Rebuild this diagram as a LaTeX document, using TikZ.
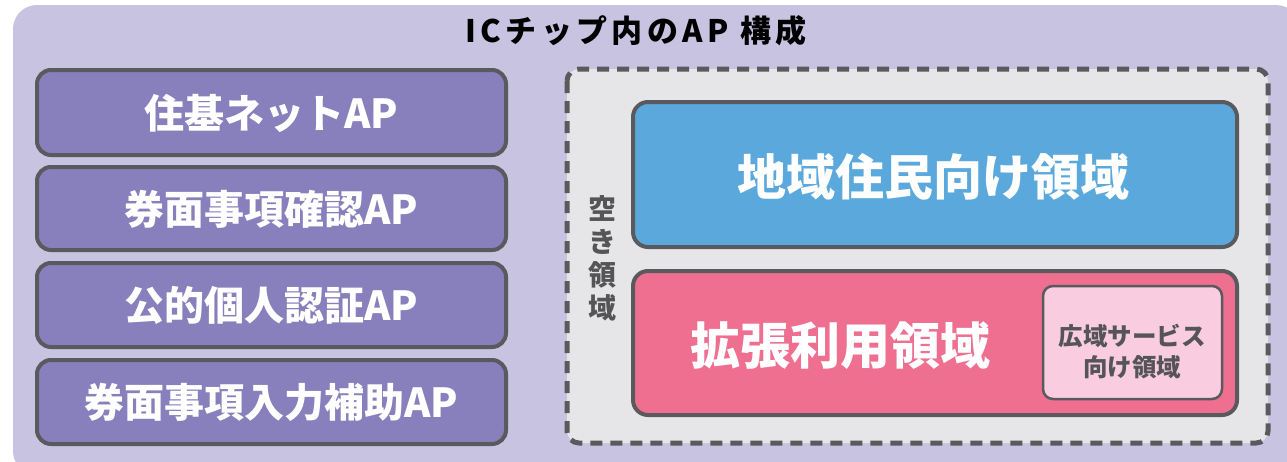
\documentclass[tikz,border=0pt]{standalone}
\usepackage{fontspec}
\setmainfont{Noto Sans CJK JP}
\newfontfamily\jptitle{Noto Sans CJK JP}[LetterSpace=14]
\definecolor{lav}{HTML}{C7C3E1}
\definecolor{apfill}{HTML}{8780BC}
\definecolor{edge}{HTML}{5A5A5E}
\definecolor{freebg}{HTML}{E6E6E8}
\definecolor{bluefill}{HTML}{5BA8DC}
\definecolor{pinkfill}{HTML}{EF6F91}
\definecolor{lpink}{HTML}{F9CCDF}
\definecolor{darktext}{HTML}{555558}
\tikzset{
  apbox/.style={draw=edge, line width=4pt, fill=apfill, rounded corners=14pt},
  aptext/.style={text=white, font=\bfseries\fontsize{40}{40}\selectfont},
  regionbox/.style={draw=edge, line width=4pt, rounded corners=15pt},
  bigtext/.style={text=white, font=\bfseries\fontsize{49}{49}\selectfont},
}
\begin{document}
\begin{tikzpicture}[x=1pt,y=-1pt]
\useasboundingbox (0,0) rectangle (1287,461);
% outer panel
\fill[lav, rounded corners=24pt] (13,5) rectangle (1300,475);
\node[font=\jptitle\bfseries\fontsize{31}{31}\selectfont, anchor=center] (title) at (636,31) {ICチップ内のAP 構成};
% left AP boxes
\draw[apbox] (37,70) rectangle (506,155);
\node[aptext] (ap1) at (271.5,113) {住基ネットAP};
\draw[apbox] (37,167) rectangle (506,250);
\node[aptext] (ap2) at (271.5,209) {券面事項確認AP};
\draw[apbox] (37,263) rectangle (506,347);
\node[aptext] (ap3) at (271.5,305) {公的個人認証AP};
\draw[apbox] (37,360) rectangle (506,444);
\node[aptext] (ap4) at (271.5,402) {券面事項入力補助AP};
% free area
\draw[fill=freebg, draw=edge, line width=5pt, dash pattern=on 12pt off 8pt, rounded corners=12pt] (567,69) rectangle (1268,443);
\node[text=darktext, font=\bfseries\fontsize{28}{33}\selectfont, align=center] (free) at (602,258) {空\\き\\領\\域};
% regions
\draw[regionbox, fill=bluefill] (633,102) rectangle (1237,247);
\node[bigtext] (local) at (933,177) {地域住民向け領域};
\draw[regionbox, fill=pinkfill] (633,271) rectangle (1237,415);
\node[bigtext, font=\bfseries\fontsize{50}{50}\selectfont] (ext) at (840,346) {拡張利用領域};
\draw[draw=edge, line width=2.5pt, fill=lpink, rounded corners=10pt] (1043,286) rectangle (1222,399);
\node[text=darktext, font=\bfseries\fontsize{24.5}{31}\selectfont, align=center] (wide) at (1132,351) {広域サービス\\向け領域};
\end{tikzpicture}
\end{document}
